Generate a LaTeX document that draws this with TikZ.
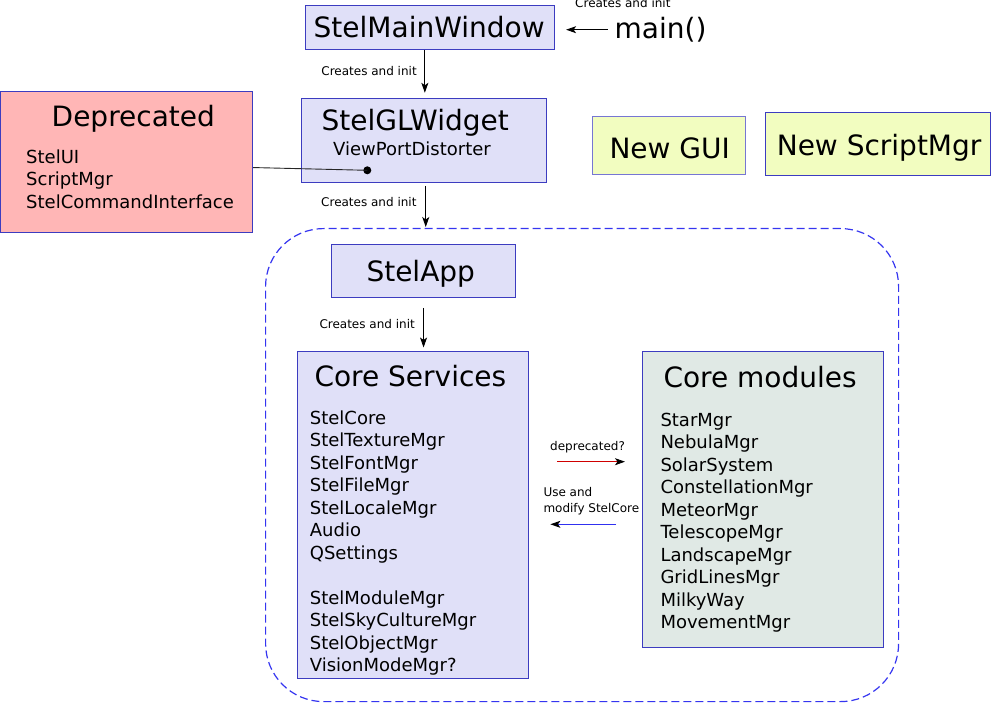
\documentclass[tikz,border=0pt]{standalone}
\usepackage{fontspec}
\setmainfont{DejaVu Sans}
\usetikzlibrary{arrows.meta}
\definecolor{boxblue}{HTML}{E0E0F8}
\definecolor{edgeblue}{HTML}{3C3CC0}
\definecolor{deppink}{HTML}{FFB6B6}
\definecolor{modgray}{HTML}{E0E9E5}
\definecolor{newyellow}{HTML}{F2FDC0}
\definecolor{dashblue}{HTML}{3535F0}
\definecolor{usearrow}{HTML}{3030F0}
\definecolor{deparrow}{HTML}{D00000}
\tikzset{
  panel/.style={draw=edgeblue, line width=1.1pt, inner sep=0pt, anchor=north west},
  ttl/.style={font=\fontsize{28}{33}\selectfont, anchor=base west, inner sep=0pt},
  itm/.style={font=\fontsize{18}{22}\selectfont, anchor=base west, inner sep=0pt},
  lbl/.style={font=\fontsize{12}{14}\selectfont, anchor=base west, inner sep=0pt},
  arr/.style={-{Stealth[length=10pt,width=7pt,inset=2.5pt,black]}, line width=0.9pt},
}
\begin{document}
\begin{tikzpicture}[x=1pt,y=-1pt]
\useasboundingbox (0,0) rectangle (991,703);

% region
\node[draw=dashblue, line width=1.2pt, dash pattern=on 8pt off 4pt, rounded corners=58pt,
      inner sep=0pt, anchor=north west, minimum width=633pt, minimum height=473pt] (region) at (265,228) {};

% boxes
\node[panel, fill=boxblue, minimum width=249pt, minimum height=43.7pt] (smw) at (305,5.3) {};
\node[panel, fill=boxblue, minimum width=245pt, minimum height=84pt] (glw) at (300.7,98.3) {};
\node[panel, fill=deppink, minimum width=252pt, minimum height=141pt] (dep) at (0,90.7) {};
\node[panel, fill=newyellow, draw=edgeblue!70, minimum width=153.3pt, minimum height=58.3pt] (gui) at (591.7,115.7) {};
\node[panel, fill=newyellow, minimum width=225pt, minimum height=63.6pt] (nsm) at (765,111.7) {};
\node[panel, fill=boxblue, minimum width=184.6pt, minimum height=52.7pt] (app) at (330.7,244) {};
\node[panel, fill=boxblue, minimum width=231.6pt, minimum height=327.3pt] (cs) at (296.7,351) {};
\node[panel, fill=modgray, minimum width=241.6pt, minimum height=296.6pt] (cm) at (641.7,350.7) {};

% titles
\node[ttl] (smwT) at (313.5,38) {StelMainWindow};
\node[ttl] (mainT) at (614.5,39) {main()};
\node[ttl] (glwT) at (321.5,131) {StelGLWidget};
\node[ttl] (depT) at (51.5,127) {Deprecated};
\node[ttl] (guiT) at (609.3,158.5) {New GUI};
\node[ttl] (nsmT) at (776.6,155.3) {New ScriptMgr};
\node[ttl] (appT) at (366.3,282) {StelApp};
\node[ttl] (csT) at (314.3,387) {Core Services};
\node[ttl] (cmT) at (663.3,387.5) {Core modules};

% items
\node[itm] (vpd) at (333,156) {ViewPortDistorter};
\node[itm] (dep1) at (26,163.7) {StelUI};
\node[itm] (dep2) at (26,186) {ScriptMgr};
\node[itm] (dep3) at (26,208.3) {StelCommandInterface};

\foreach \t [count=\i from 0] in {StelCore,StelTextureMgr,StelFontMgr,StelFileMgr,StelLocaleMgr,Audio,QSettings,{},StelModuleMgr,StelSkyCultureMgr,StelObjectMgr,VisionModeMgr?}
  \node[itm] (cs\i) at (309.7,424.3+22.5*\i) {\t};

\foreach \t [count=\i from 0] in {StarMgr,NebulaMgr,SolarSystem,ConstellationMgr,MeteorMgr,TelescopeMgr,LandscapeMgr,GridLinesMgr,MilkyWay,MovementMgr}
  \node[itm] (cm\i) at (660.3,426+22.5*\i) {\t};

% labels
\node[lbl] (lmain) at (575,8) {Creates and init};
\node[lbl] (l1) at (321.2,75.5) {Creates and init};
\node[lbl] (l2) at (321,207) {Creates and init};
\node[lbl] (l3) at (319.3,328.8) {Creates and init};
\node[lbl] (ldep) at (550,450.5) {deprecated?};
\node[lbl] (luse1) at (543.3,496.5) {Use and};
\node[lbl] (luse2) at (543.3,512.2) {modify StelCore};

% connectors
\draw[arr] ([xshift=-7pt,yshift=-2pt]mainT.west |- smw.east) -- ([xshift=11pt,yshift=-2pt]smw.east);
\draw[arr] ([xshift=-5.2pt]smw.south) -- ([xshift=-5.2pt,yshift=5.5pt]smw.south |- glw.north);
\draw[arr] ([xshift=2pt,yshift=-2.5pt]glw.south) -- ([xshift=2pt,yshift=1pt]glw.south |- region.north);
\draw[arr] ([yshift=-10pt]app.south) -- ([yshift=3.5pt]app.south |- cs.north);

\node[circle, fill=black, inner sep=0pt, minimum size=8pt] (dot) at (367.3,170.3) {};
\draw[line width=0.9pt, black!85] ([yshift=-5.8pt]dep.east) -- (dot.center);

\coordinate (depA) at (557.3,461.7);
\draw[arr, draw=deparrow] (depA) -- ([xshift=-16.7pt]depA -| cm.west);
\coordinate (useA) at (616,524.3);
\draw[arr, draw=usearrow] (useA) -- ([xshift=21pt]useA -| cs.east);
\end{tikzpicture}
\end{document}
